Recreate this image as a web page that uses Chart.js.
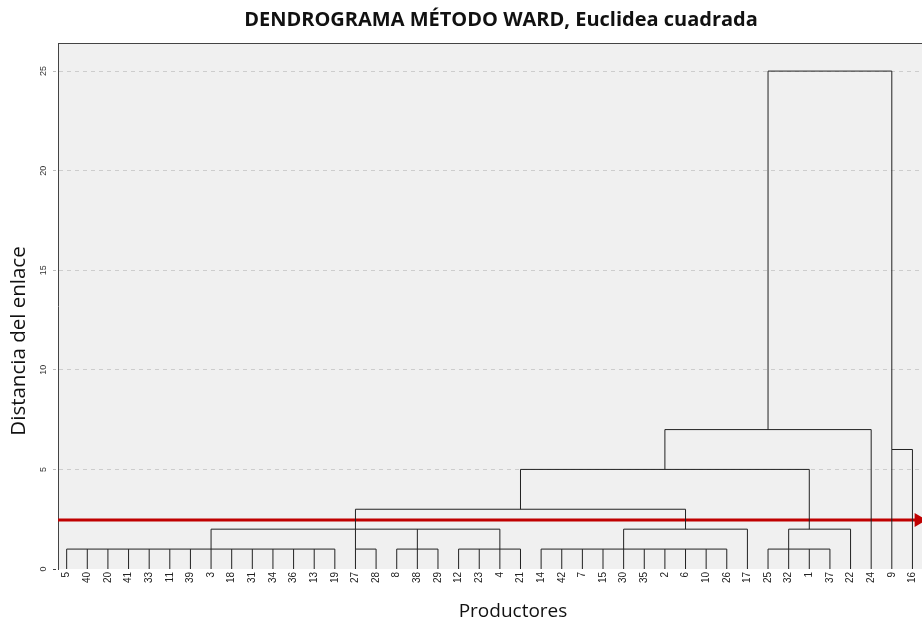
<!DOCTYPE html>
<html>
<head>
<meta charset="utf-8">
<script src="https://cdn.jsdelivr.net/npm/chart.js@4/dist/chart.umd.min.js"></script>
<style>
  html, body { margin: 0; padding: 0; background: #ffffff; overflow: hidden; }
  #wrap { width: 922px; height: 624px; overflow: hidden; position: relative; }
  #c { display: block; }
</style>
</head>
<body>
<div id="wrap"><canvas id="c" width="944" height="624"></canvas></div>
<script>
// ---- Data ----
const leafLabels = ['5','40','20','41','33','11','39','3','18','31','34','36','13','19',
  '27','28','8','38','29','12','23','4','21','14','42','7','15','30','35','2','6','10',
  '26','17','25','32','1','37','22','24','9','16'];

// children of each merge: numbers = leaf index, 'mN' = earlier merge
const mergeChildren = [
  [0,1,2,3,4,5,6,7,8,9,10,11,12,13],
  [14,15],
  [16,17,18],
  [19,20,21,22],
  [23,24,25,26,27,28,29,30,31,32],
  [34,35,36,37],
  [40,41],
  ['m0','m1','m2','m3'],
  ['m4',33],
  ['m5',38],
  ['m7','m8'],
  ['m10','m9'],
  ['m11',39],
  ['m12','m6']
];
const mergeHeights = [1,1,1,1,1,1,6,2,2,2,3,5,7,25];
const mergeNodeLeaf = [7,14,17,21,27,35,40,14,30,36,22,29,34,37];
const cutHeight = 2.46;
const cutEnd = 41.3;
const yTicks = [0,5,10,15,20,25];

// ---- Build segments from the tree ----
function nodeOf(c) {
  if (typeof c === 'number') return { x: c, h: 0 };
  const j = +c.slice(1);
  return { x: mergeNodeLeaf[j], h: mergeHeights[j] };
}
const segs = [];
mergeChildren.forEach((kids, j) => {
  const h = mergeHeights[j];
  const nodes = kids.map(nodeOf);
  const xs = nodes.map(n => n.x);
  segs.push({x: Math.min(...xs), y: h}, {x: Math.max(...xs), y: h}, {x: null, y: null});
  nodes.forEach(n => {
    segs.push({x: n.x, y: n.h}, {x: n.x, y: h}, {x: null, y: null});
  });
});

const X_MIN = -0.42, X_MAX = 42.53, Y_MAX = 26.41;

function shiftTitle(scale, dx, dy) {
  if (scale._titleShifted) return;
  const orig = scale.drawTitle;
  scale.drawTitle = function () {
    this.ctx.save();
    this.ctx.translate(dx, dy);
    orig.call(this);
    this.ctx.restore();
  };
  scale._titleShifted = true;
}

const bgPlugin = {
  id: 'bg',
  beforeDraw(chart) {
    const {ctx, chartArea: a} = chart;
    ctx.save();
    ctx.fillStyle = '#f0f0f0';
    ctx.fillRect(a.left, a.top, a.right - a.left, a.bottom - a.top);
    ctx.restore();
  },
  afterDraw(chart) {
    const {ctx, chartArea: a} = chart;
    ctx.save();
    ctx.strokeStyle = '#444';
    ctx.lineWidth = 1;
    ctx.beginPath();
    ctx.moveTo(a.left, a.top + 0.5);
    ctx.lineTo(a.right, a.top + 0.5);
    ctx.stroke();
    ctx.restore();
  }
};

new Chart(document.getElementById('c'), {
  type: 'scatter',
  data: {
    datasets: [
      {
        data: segs,
        showLine: true,
        spanGaps: false,
        borderColor: '#222',
        borderWidth: 1,
        pointRadius: 0,
        pointHoverRadius: 0
      },
      {
        data: [{x: X_MIN, y: cutHeight}, {x: cutEnd, y: cutHeight}],
        showLine: true,
        borderColor: '#c00000',
        borderWidth: 3,
        pointRadius: [0, 5],
        pointStyle: 'triangle',
        rotation: 90,
        pointBackgroundColor: '#c00000',
        pointBorderColor: '#c00000'
      }
    ]
  },
  options: {
    responsive: false,
    animation: false,
    devicePixelRatio: 1,
    layout: { autoPadding: false, padding: 0 },
    plugins: {
      legend: { display: false },
      tooltip: { enabled: false },
      title: {
        display: true,
        fullSize: false,
        text: 'DENDROGRAMA MÉTODO WARD, Euclidea cuadrada',
        color: '#111',
        font: { family: 'Open Sans', size: 20, weight: 'bold' },
        padding: { top: 8, bottom: 11 }
      }
    },
    scales: {
      x: {
        type: 'linear',
        min: X_MIN,
        max: X_MAX,
        afterBuildTicks: s => { s.ticks = leafLabels.map((_, i) => ({ value: i })); },
        afterFit: s => {
          s.height = 55; s.paddingLeft = 0; s.paddingRight = 0;
          shiftTitle(s, 12, 0);
        },
        grid: { display: false, drawTicks: false },
        border: { display: false },
        ticks: {
          autoSkip: false,
          minRotation: 90,
          maxRotation: 90,
          padding: 3,
          color: '#222',
          font: { family: 'Liberation Sans', size: 10 },
          callback: v => leafLabels[v]
        },
        title: {
          display: true,
          text: 'Productores',
          color: '#111',
          font: { family: 'Open Sans', size: 19 },
          padding: { top: 0, bottom: 1 }
        }
      },
      y: {
        type: 'linear',
        min: 0,
        max: Y_MAX,
        afterBuildTicks: s => { s.ticks = yTicks.map(v => ({ value: v })); },
        afterFit: s => {
          s.width = 58; s.paddingTop = 0; s.paddingBottom = 0;
          s.paddingLeft = 0; s.paddingRight = 0;
          shiftTitle(s, 0, 35);
        },
        grid: {
          color: ctx => (ctx.tick && ctx.tick.value === 0) ? 'rgba(0,0,0,0)' : '#cdcdcd',
          tickLength: 5,
          tickColor: ctx => (ctx.tick && ctx.tick.value === 0) ? '#444' : '#bdbdbd',
          tickBorderDash: [3, 2]
        },
        border: { display: true, color: '#444', width: 1, dash: [4, 4] },
        ticks: {
          minRotation: 90,
          maxRotation: 90,
          crossAlign: 'center',
          padding: 4,
          color: '#333',
          font: { family: 'Liberation Sans', size: 9 }
        },
        title: {
          display: true,
          text: 'Distancia del enlace',
          color: '#111',
          font: { family: 'Open Sans', size: 20.5 },
          padding: { top: 7, bottom: 0 }
        }
      }
    }
  },
  plugins: [bgPlugin]
});
</script>
</body>
</html>
